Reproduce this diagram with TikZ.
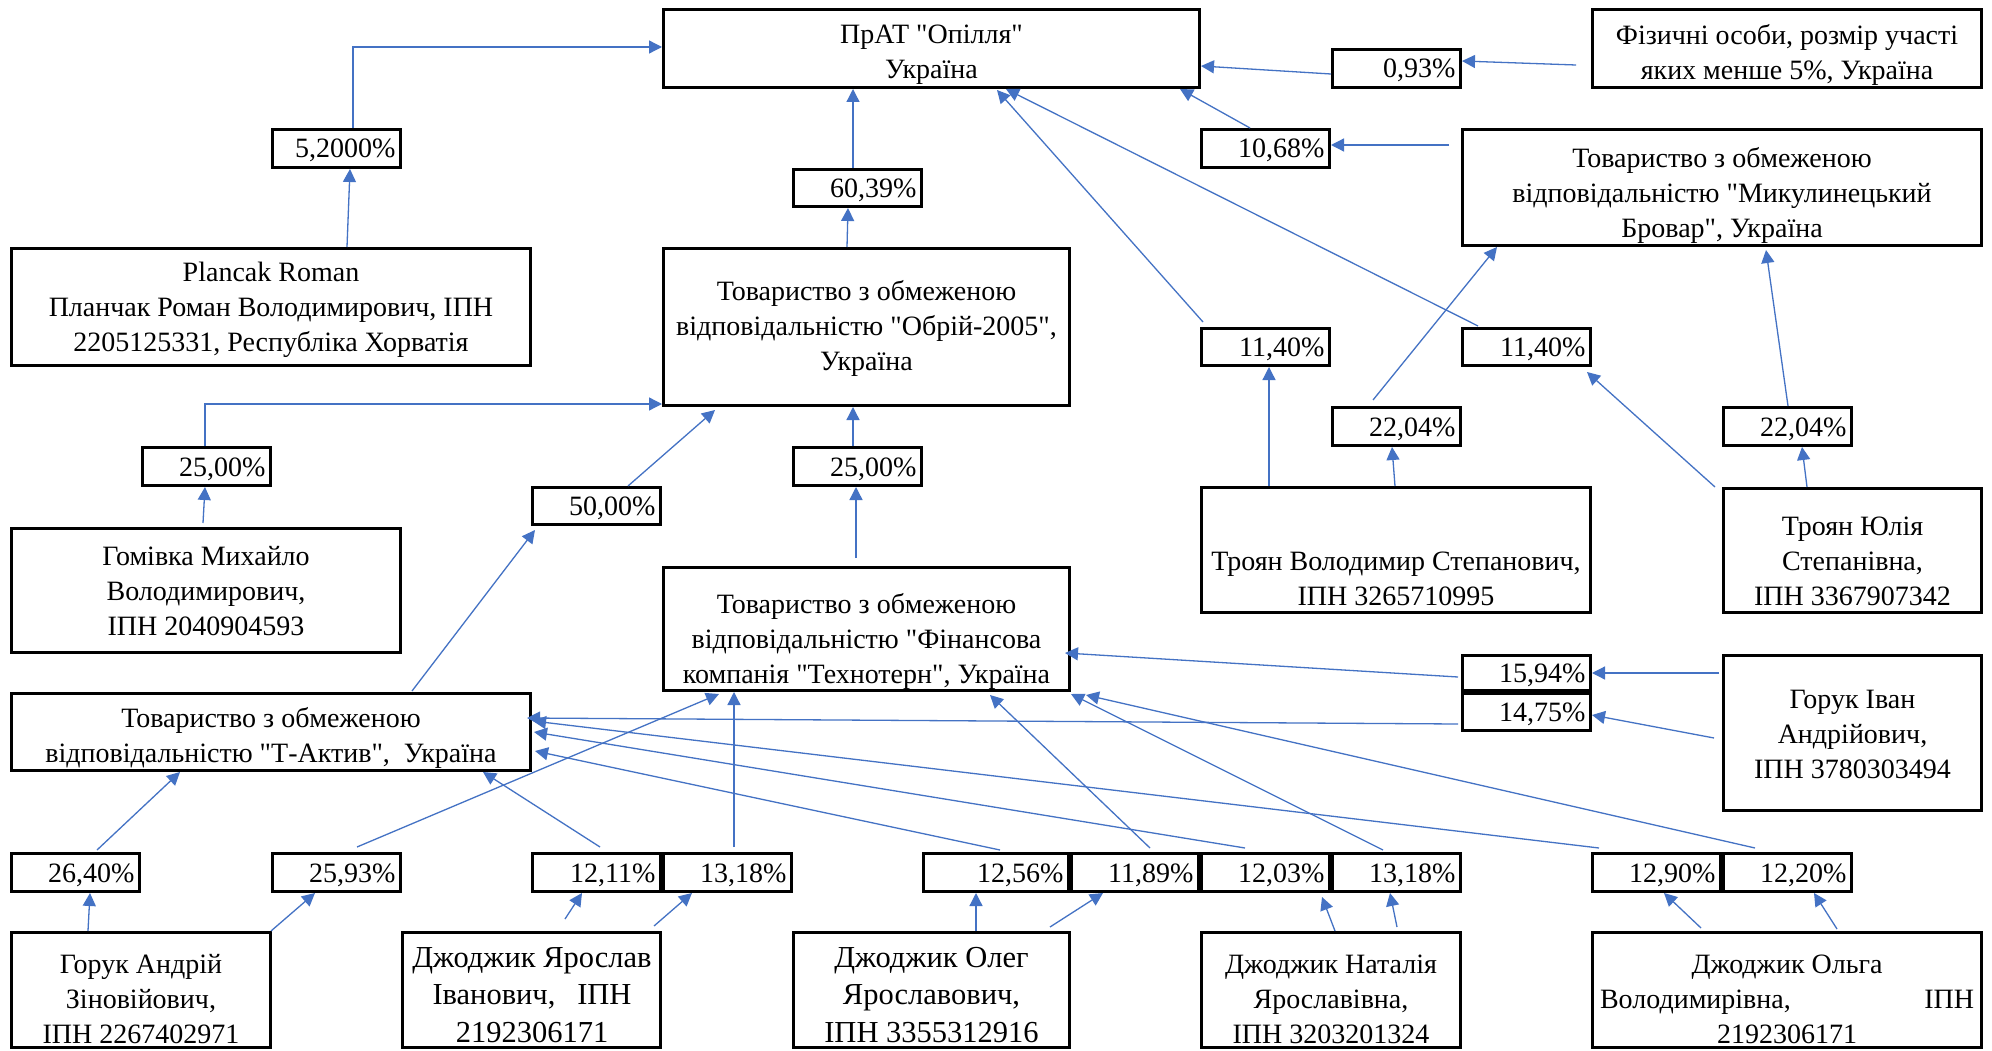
\documentclass[tikz,border=0pt]{standalone}
\usepackage{fontspec}
\setmainfont{Liberation Serif}[Ligatures=TeXOff]
\usetikzlibrary{arrows.meta}
\definecolor{lnblue}{HTML}{4472C4}
\newcommand\ebox[5]{\node[box, minimum width={(#4-#2-3)*1pt}, minimum height={(#5-#3-3)*1pt}] (#1) at (#2,#3) {};}
\newcommand\pbox[6][]{\node[pct, minimum height={(#5-#4-3)*1pt}, #1] (#2) at (#3,#4) {#6};}
\begin{document}
\begin{tikzpicture}[x=1pt,y=-1pt,
  box/.style={draw=black, line width=3pt, inner sep=0pt, anchor=north west},
  pct/.style={box, minimum width=128pt, text width=118pt, inner xsep=5pt, inner ysep=0pt, align=right, text height=19pt, text depth=0pt, font=\fontsize{28}{35}\selectfont},
  txt/.style={font=\fontsize{28}{35}\selectfont, align=center, inner sep=0pt},
  bigtxt/.style={txt, font=\fontsize{30.5}{37.5}\selectfont},
  conn/.style={draw=lnblue, line width=1.3pt, -{Triangle[length=13pt,width=13pt]}}]
\fill[white] (0,0) rectangle (1992,1051);
\useasboundingbox (0,0) rectangle (1992,1051);

% ---- boxes
\ebox{op}{662}{8}{1201}{89}
\ebox{fiz}{1591}{8}{1983}{89}
\ebox{mik}{1461}{128}{1983}{247}
\ebox{pl}{10}{247}{532}{367}
\ebox{obr}{662}{247}{1071}{407}
\ebox{tv}{1200}{486}{1592}{614}
\ebox{tu}{1722}{487}{1983}{614}
\ebox{gom}{10}{527}{402}{654}
\ebox{tex}{662}{566}{1071}{692}
\ebox{hi}{1722}{654}{1983}{812}
\ebox{ta}{10}{692}{532}{772}
\ebox{ha}{10}{931}{272}{1049}
\ebox{jy}{401}{931}{662}{1049}
\ebox{jo}{792}{931}{1071}{1049}
\ebox{jn}{1200}{931}{1462}{1049}
\ebox{jol}{1591}{931}{1983}{1049}

% ---- box texts
\node[txt] (opt) at (931.5,55) {ПрАТ "Опілля"\\Україна};
\node[txt] (fizt) at (1787,54.5) {Фізичні особи, розмір участі\\яких менше 5\%, Україна};
\node[txt] (mikt) at (1722,195.5) {Товариство з обмеженою\\відповідальністю "Микулинецький\\Бровар", Україна};
\node[txt] (plt) at (271,310) {Plancak Roman\\Планчак Роман Володимирович, ІПН\\2205125331, Республіка Хорватія};
\node[txt] (obrt) at (866.5,328.5) {Товариство з обмеженою\\відповідальністю "Обрій-2005",\\Україна};
\node[txt] (gomt) at (206,591.5) {Гомівка Михайло\\Володимирович,\\ІПН 2040904593};
\node[txt] (text) at (866.5,641.5) {Товариство з обмеженою\\відповідальністю "Фінансова\\компанія "Технотерн", Україна};
\node[txt] (tvt) at (1396,579) {Троян Володимир Степанович,\\ІПН 3265710995};
\node[txt] (tut) at (1852.5,561.5) {Троян Юлія\\Степанівна,\\ІПН 3367907342};
\node[txt] (hit) at (1852.5,734.5) {Горук Іван\\Андрійович,\\ІПН 3780303494};
\node[txt] (tat) at (271,738) {Товариство з обмеженою\\відповідальністю "Т-Актив",~ Україна};
\node[txt] (hat) at (141,999.5) {Горук Андрій\\Зіновійович,\\ІПН 2267402971};
\node[bigtxt] (jyt) at (532,995) {Джоджик Ярослав\\\hbox to 199pt{Іванович,\hfill ІПН}\\2192306171};
\node[bigtxt] (jot) at (931.5,995) {Джоджик Олег\\Ярославович,\\ІПН 3355312916};
\node[txt] (jnt) at (1331,999.5) {Джоджик Наталія\\Ярославівна,\\ІПН 3203201324};
\node[txt] (jolt) at (1787,999.5) {Джоджик Ольга\\\hbox to 374pt{Володимирівна,\hfill ІПН}\\2192306171};

% ---- percentage boxes
\pbox{p093}{1331}{48}{89}{0,93\%}
\pbox{p1068}{1200}{128}{169}{10,68\%}
\pbox{p52}{271}{128}{169}{5,2000\%}
\pbox{p6039}{792}{168}{208}{60,39\%}
\pbox{p1140a}{1200}{327}{367}{11,40\%}
\pbox{p1140b}{1461}{327}{367}{11,40\%}
\pbox{p2204a}{1331}{406}{447}{22,04\%}
\pbox{p2204b}{1722}{406}{447}{22,04\%}
\pbox{p2500a}{141}{446}{487}{25,00\%}
\pbox{p2500b}{792}{446}{487}{25,00\%}
\pbox{p5000}{531}{486}{526}{50,00\%}
\pbox{p1594}{1461}{654}{692}{15,94\%}
\pbox{p1475}{1461}{692}{732}{14,75\%}
\pbox{p2640}{10}{852}{893}{26,40\%}
\pbox{p2593}{271}{852}{893}{25,93\%}
\pbox{p1211}{531}{852}{893}{12,11\%}
\pbox{p1318a}{662}{852}{893}{13,18\%}
\pbox[minimum width=145pt, text width=135pt]{p1256}{922}{852}{893}{12,56\%}
\pbox[minimum width=127pt, text width=117pt]{p1189}{1070}{852}{893}{11,89\%}
\pbox{p1203}{1200}{852}{893}{12,03\%}
\pbox{p1318b}{1331}{852}{893}{13,18\%}
\pbox{p1290}{1591}{852}{893}{12,90\%}
\pbox{p1220}{1722}{852}{893}{12,20\%}

% ---- connectors
\draw[conn] ([xshift=82]p52.north west) |- ([yshift=-39]op.north west);
\draw[conn] ([xshift=337]pl.north west) -- ([xshift=79]p52.south west);
\draw[conn] ([xshift=61]p6039.north west) -- ([xshift=191]op.south west);
\draw[conn] ([xshift=185]obr.north west) -- ([xshift=56]p6039.south west);
\draw[conn] ([yshift=-26]p093.north west) -- ([yshift=-58]op.north east);
\draw[conn] ([xshift=-15,yshift=-57]fiz.north west) -- ([yshift=-13]p093.north east);
\draw[conn] ([xshift=50]p1068.north west) -- ([xshift=518]op.south west);
\draw[conn] ([xshift=-12,yshift=-17]mik.north west) -- ([yshift=-17]p1068.north east);
\draw[conn] ([xshift=3,yshift=5]p1140a.north west) -- ([xshift=335,yshift=-1]op.south west);
\draw[conn] ([xshift=17,yshift=1]p1140b.north west) -- ([xshift=344]op.south west);
\draw[conn] ([xshift=69]tv.north west) -- ([xshift=69]p1140a.south west);
\draw[conn] ([xshift=195]tv.north west) -- ([xshift=61]p2204a.south west);
\draw[conn] ([xshift=42,yshift=6]p2204a.north west) -- ([xshift=36]mik.south west);
\draw[conn] ([xshift=-7]tu.north west) -- ([xshift=126,yshift=-5]p1140b.south west);
\draw[conn] ([xshift=85]tu.north west) -- ([xshift=80]p2204b.south west);
\draw[conn] ([xshift=66]p2204b.north west) -- ([xshift=305,yshift=-3]mik.south west);
\draw[conn] ([xshift=64]p2500a.north west) |- ([yshift=-157]obr.north west);
\draw[conn] ([xshift=193,yshift=4]gom.north west) -- ([xshift=64]p2500a.south west);
\draw[conn] ([xshift=97]p5000.north west) -- ([xshift=53,yshift=-3]obr.south west);
\draw[conn] ([xshift=402,yshift=1]ta.north west) -- ([xshift=4,yshift=-4]p5000.south west);
\draw[conn] ([xshift=61]p2500b.north west) -- ([xshift=191]obr.south west);
\draw[conn] ([xshift=194,yshift=8]tex.north west) -- ([xshift=64]p2500b.south west);
\draw[conn] ([xshift=-3,yshift=-23]p1594.north west) -- ([xshift=-6,yshift=-87]tex.north east);
\draw[conn] ([xshift=-3,yshift=-19]hi.north west) -- ([yshift=-19]p1594.north east);
\draw[conn] ([xshift=-3,yshift=-32]p1475.north west) -- ([xshift=-5,yshift=-26]ta.north east);
\draw[conn] ([xshift=-8,yshift=-84]hi.north west) -- ([yshift=-23]p1475.north east);
\draw[conn] ([xshift=87,yshift=2]p2640.north west) -- ([xshift=170]ta.south west);
\draw[conn] ([xshift=78]ha.north west) -- ([xshift=80]p2640.south west);
\draw[conn] ([xshift=-1]ha.north east) -- ([xshift=44]p2593.south west);
\draw[conn] ([xshift=86,yshift=5]p2593.north west) -- ([xshift=57,yshift=-2]tex.south west);
\draw[conn] ([xshift=69,yshift=5]p1211.north west) -- ([xshift=473]ta.south west);
\draw[conn] ([xshift=164,yshift=12]jy.north west) -- ([xshift=51]p1211.south west);
\draw[conn] ([xshift=253,yshift=5]jy.north west) -- ([xshift=30]p1318a.south west);
\draw[conn] ([xshift=72,yshift=5]p1318a.north west) -- ([xshift=72]tex.south west);
\draw[conn] ([xshift=78,yshift=2]p1256.north west) -- ([xshift=3,yshift=-59]ta.north east);
\draw[conn] ([xshift=184]jo.north west) -- ([xshift=54]p1256.south west);
\draw[conn] ([xshift=80,yshift=4]p1189.north west) -- ([xshift=328,yshift=-3]tex.south west);
\draw[conn] ([xshift=258,yshift=4]jo.north west) -- ([xshift=33]p1189.south west);
\draw[conn] ([xshift=45,yshift=4]p1203.north west) -- ([xshift=2,yshift=-40]ta.north east);
\draw[conn] ([xshift=135]jn.north west) -- ([xshift=122,yshift=-4]p1203.south west);
\draw[conn] ([xshift=52,yshift=2]p1318b.north west) -- ([yshift=-2]tex.south east);
\draw[conn] ([xshift=197,yshift=4]jn.north west) -- ([xshift=59]p1318b.south west);
\draw[conn] ([xshift=8,yshift=4]p1290.north west) -- ([xshift=1,yshift=-29]ta.north east);
\draw[conn] ([xshift=110,yshift=3]jol.north west) -- ([xshift=73]p1290.south west);
\draw[conn] ([xshift=33,yshift=4]p1220.north west) -- ([xshift=15,yshift=-3]tex.south east);
\draw[conn] ([xshift=246,yshift=2]jol.north west) -- ([xshift=92]p1220.south west);
\end{tikzpicture}
\end{document}
